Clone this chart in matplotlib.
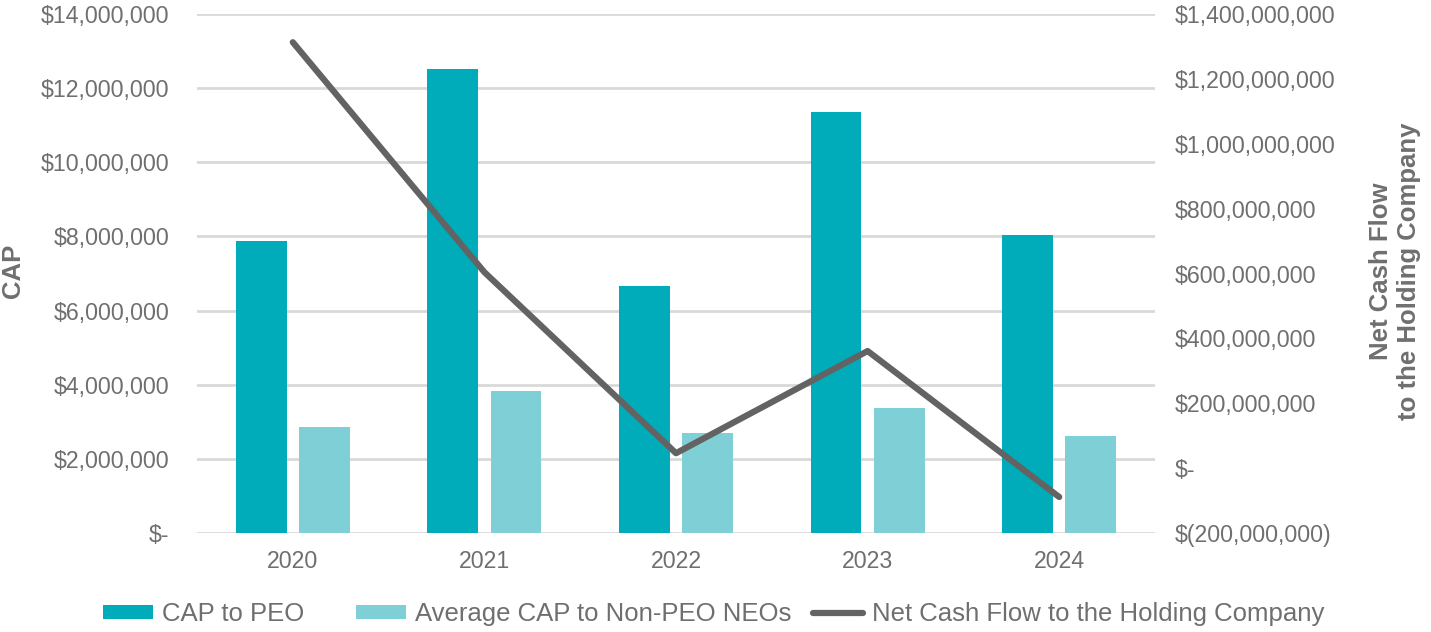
import matplotlib.pyplot as plt
import matplotlib.ticker as mticker
import numpy as np

# Data
years = ['2020', '2021', '2022', '2023', '2024']
cap_peo = [7.88e6, 12.52e6, 6.66e6, 11.36e6, 8.04e6]
cap_non_peo = [2.86e6, 3.83e6, 2.70e6, 3.37e6, 2.62e6]
net_cash_flow = [1313e6, 604e6, 46e6, 361e6, -89e6]

plt.rcParams['font.family'] = ['Liberation Sans', 'DejaVu Sans']
text_gray = '#6f6f6f'

fig = plt.figure(figsize=(14.31, 6.32), dpi=100)
ax = fig.add_axes([197/1431, 1-533/632, (1155-197)/1431, (533-14)/632])
ax2 = ax.twinx()

x = np.arange(len(years))
w = 0.265
b1 = ax.bar(x-0.165, cap_peo, width=w, color='#00acb9', label='CAP to PEO', zorder=2)
b2 = ax.bar(x+0.165, cap_non_peo, width=w, color='#7fcfd6', label='Average CAP to Non-PEO NEOs', zorder=2)
ln, = ax2.plot(x, net_cash_flow, color='#636363', linewidth=4.5, solid_capstyle='round',
               label='Net Cash Flow to the Holding Company')

ax.set_xlim(-0.5, 4.5)
ax.set_ylim(0, 14e6)
ax.set_yticks(np.arange(0, 14e6+1, 2e6))
ax2.set_ylim(-200e6, 1400e6)
ax2.set_yticks(np.arange(-200e6, 1400e6+1, 200e6))

def money(v, pos):
    if v == 0:
        return '$-'
    if v < 0:
        return f'$({abs(v):,.0f})'
    return f'${v:,.0f}'

ax.yaxis.set_major_formatter(mticker.FuncFormatter(money))
ax2.yaxis.set_major_formatter(mticker.FuncFormatter(money))

ax.set_xticks(x)
ax.set_xticklabels(years)
ax.grid(axis='y', color='#d9d9d9', linewidth=2, zorder=0)
ax.set_axisbelow(True)

for a in (ax, ax2):
    for s in a.spines.values():
        s.set_visible(False)
    a.tick_params(length=0, labelsize=16.7, colors=text_gray)
ax.tick_params(axis='y', pad=20)
ax.tick_params(axis='x', pad=12)
ax2.tick_params(axis='y', pad=14)

ax.set_ylabel('CAP', fontsize=18.5, fontweight='bold', color=text_gray, va='center')
ax.yaxis.set_label_coords(-0.192, 0.505)
ax2.set_ylabel('Net Cash Flow\nto the Holding Company', fontsize=18.5, fontweight='bold',
               color=text_gray, rotation=90, linespacing=1.2, va='center')
ax2.yaxis.set_label_coords(1.2505, 0.505)

# legend entries placed one by one, as the gaps in the reference are uneven
for handle, left in [(b1, 103), (b2, 356), (ln, 813)]:
    leg = fig.legend(handles=[handle], loc='center left', bbox_to_anchor=(left/1431, 1-614/632),
                     frameon=False, fontsize=18.5, handlelength=1.95, handleheight=0.43,
                     handletextpad=0.35, borderpad=0, borderaxespad=0)
    for t in leg.get_texts():
        t.set_color(text_gray)

plt.savefig('out.png', dpi=100)
